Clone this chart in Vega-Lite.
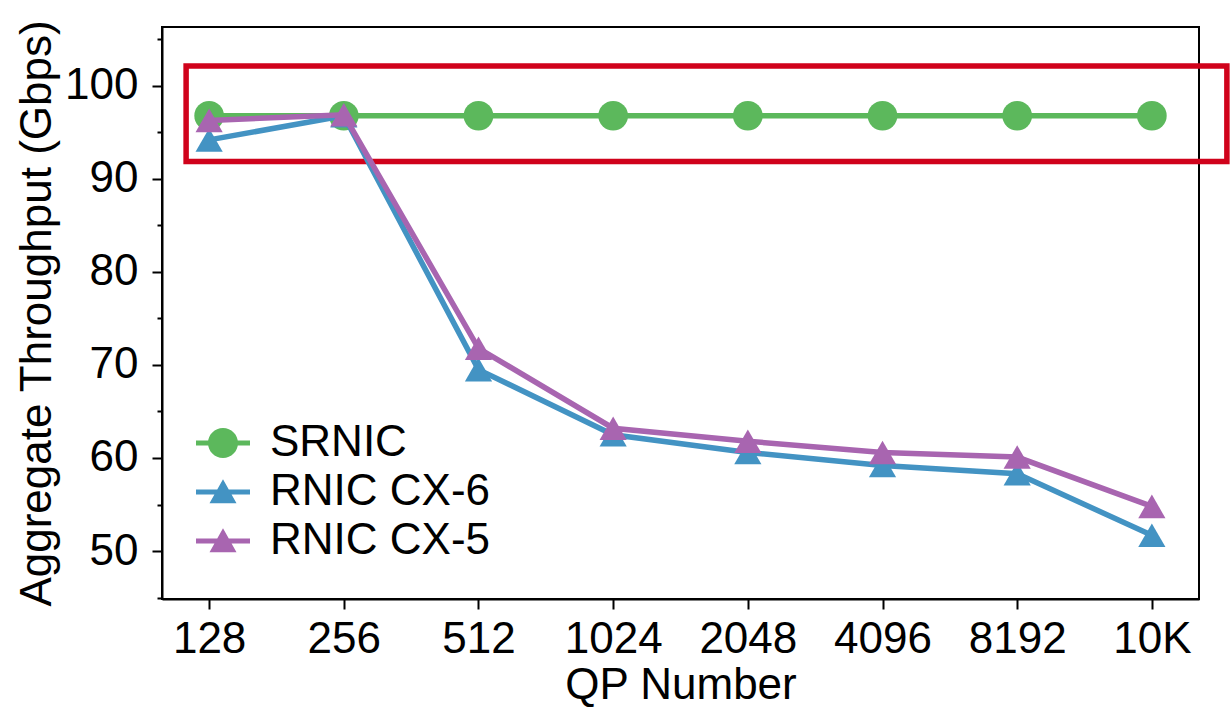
{
  "$schema": "https://vega.github.io/schema/vega-lite/v6.json",
  "width": 1037,
  "height": 572,
  "autosize": "none",
  "padding": {"left": 162, "top": 27, "right": 31, "bottom": 108},
  "background": "white",
  "config": {
    "view": {"stroke": "black", "strokeWidth": 2},
    "font": "Liberation Sans"
  },
  "layer": [
    {
      "data": {"values": [{"x0": -0.171, "x1": 7.557, "y0": 91.88, "y1": 102.15}]},
      "mark": {"type": "rect", "filled": false, "stroke": "#d0021b", "strokeWidth": 5.5},
      "encoding": {
        "x": {"field": "x0", "type": "quantitative", "scale": {"domain": [-0.35, 7.35], "nice": false, "zero": false}},
        "x2": {"field": "x1"},
        "y": {"field": "y0", "type": "quantitative", "scale": {"domain": [44.84, 106.34], "nice": false, "zero": false}},
        "y2": {"field": "y1"}
      }
    },
    {
      "data": {"values": [
        {"i": 0, "qp": "128", "series": "SRNIC", "v": 96.8},
        {"i": 1, "qp": "256", "series": "SRNIC", "v": 96.8},
        {"i": 2, "qp": "512", "series": "SRNIC", "v": 96.8},
        {"i": 3, "qp": "1024", "series": "SRNIC", "v": 96.8},
        {"i": 4, "qp": "2048", "series": "SRNIC", "v": 96.8},
        {"i": 5, "qp": "4096", "series": "SRNIC", "v": 96.8},
        {"i": 6, "qp": "8192", "series": "SRNIC", "v": 96.8},
        {"i": 7, "qp": "10K", "series": "SRNIC", "v": 96.8},
        {"i": 0, "qp": "128", "series": "RNIC CX-6", "v": 94.2},
        {"i": 1, "qp": "256", "series": "RNIC CX-6", "v": 96.8},
        {"i": 2, "qp": "512", "series": "RNIC CX-6", "v": 69.5},
        {"i": 3, "qp": "1024", "series": "RNIC CX-6", "v": 62.5},
        {"i": 4, "qp": "2048", "series": "RNIC CX-6", "v": 60.6},
        {"i": 5, "qp": "4096", "series": "RNIC CX-6", "v": 59.2},
        {"i": 6, "qp": "8192", "series": "RNIC CX-6", "v": 58.3},
        {"i": 7, "qp": "10K", "series": "RNIC CX-6", "v": 51.7},
        {"i": 0, "qp": "128", "series": "RNIC CX-5", "v": 96.3},
        {"i": 1, "qp": "256", "series": "RNIC CX-5", "v": 96.9},
        {"i": 2, "qp": "512", "series": "RNIC CX-5", "v": 71.8},
        {"i": 3, "qp": "1024", "series": "RNIC CX-5", "v": 63.2},
        {"i": 4, "qp": "2048", "series": "RNIC CX-5", "v": 61.8},
        {"i": 5, "qp": "4096", "series": "RNIC CX-5", "v": 60.6},
        {"i": 6, "qp": "8192", "series": "RNIC CX-5", "v": 60.1},
        {"i": 7, "qp": "10K", "series": "RNIC CX-5", "v": 54.8}
      ]},
      "encoding": {
        "x": {
          "field": "i", "type": "quantitative",
          "scale": {"domain": [-0.35, 7.35], "nice": false, "zero": false},
          "axis": {
            "title": "QP Number", "values": [0, 1, 2, 3, 4, 5, 6, 7],
            "labelExpr": "['128','256','512','1024','2048','4096','8192','10K'][datum.value]",
            "grid": false, "domainColor": "black", "domainWidth": 2,
            "tickColor": "black", "tickWidth": 2, "tickSize": 10,
            "labelFont": "Liberation Sans", "labelFontSize": 44, "labelColor": "black", "labelPadding": 8,
            "titleFont": "Liberation Sans", "titleFontSize": 44, "titleFontWeight": "normal", "titleColor": "black", "titlePadding": 2
          }
        },
        "y": {
          "field": "v", "type": "quantitative",
          "scale": {"domain": [44.84, 106.34], "nice": false, "zero": false},
          "axis": {
            "title": "Aggregate Throughput (Gbps)",
            "values": [45, 50, 55, 60, 65, 70, 75, 80, 85, 90, 95, 100, 105],
            "labelExpr": "datum.value % 10 === 0 ? datum.label : ''",
            "grid": false, "domainColor": "black", "domainWidth": 2,
            "tickColor": "black", "tickWidth": 2,
            "tickSize": {"condition": {"test": "datum.value % 10 === 0", "value": 10}, "value": 5},
            "labelFont": "Liberation Sans", "labelFontSize": 44, "labelColor": "black", "labelPadding": 14,
            "titleFont": "Liberation Sans", "titleFontSize": 44, "titleFontWeight": "normal", "titleColor": "black", "titlePadding": 5
          }
        },
        "color": {
          "field": "series", "type": "nominal",
          "scale": {"domain": ["SRNIC", "RNIC CX-6", "RNIC CX-5"], "range": ["#5cb85c", "#4393c3", "#a865b0"]},
          "legend": {
            "title": null, "orient": "none", "legendX": 34, "legendY": 389,
            "padding": 0, "rowPadding": -2, "labelLimit": 0,
            "labelFont": "Liberation Sans", "labelFontSize": 44, "labelColor": "black", "labelOffset": 20,
            "symbolSize": 2916, "symbolStrokeWidth": 0,
            "encode": {
              "symbols": {
                "update": {
                  "shape": {"signal": "datum.value === 'SRNIC' ? 'M-1,-0.09H1V0.09H-1Z M-0.556,0A0.556,0.556 0 1,1 0.556,0A0.556,0.556 0 1,1 -0.556,0Z' : 'M-1,-0.09H1V0.09H-1Z M0,-0.47L0.5,0.42L-0.5,0.42Z'"},
                  "fill": {"signal": "scale('color', datum.value)"},
                  "fillOpacity": {"value": 1},
                  "strokeWidth": {"value": 0},
                  "opacity": {"value": 1}
                }
              }
            }
          }
        }
      },
      "layer": [
        {"transform": [{"filter": "datum.series === 'SRNIC'"}], "mark": {"type": "line", "strokeWidth": 5.5}},
        {"transform": [{"filter": "datum.series === 'SRNIC'"}], "mark": {"type": "point", "shape": "circle", "filled": true, "opacity": 1, "size": 880}},
        {"transform": [{"filter": "datum.series === 'RNIC CX-6'"}], "mark": {"type": "line", "strokeWidth": 5.5}},
        {"transform": [{"filter": "datum.series === 'RNIC CX-6'"}], "mark": {"type": "point", "shape": "triangle-up", "filled": true, "opacity": 1, "size": 740}},
        {"transform": [{"filter": "datum.series === 'RNIC CX-5'"}], "mark": {"type": "line", "strokeWidth": 5.5}},
        {"transform": [{"filter": "datum.series === 'RNIC CX-5'"}], "mark": {"type": "point", "shape": "triangle-up", "filled": true, "opacity": 1, "size": 740}}
      ]
    }
  ]
}
